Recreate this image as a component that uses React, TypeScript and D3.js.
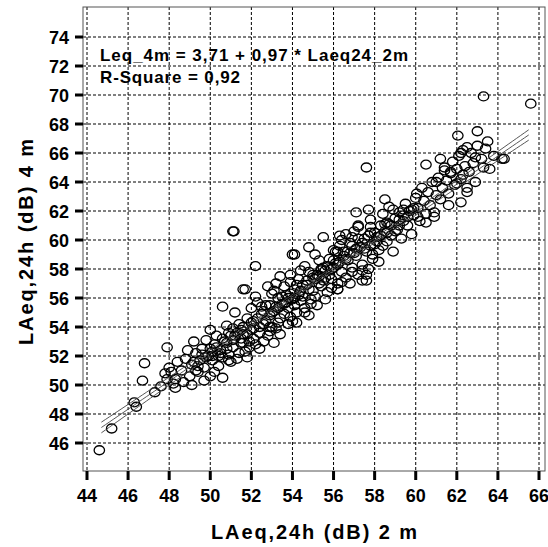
import React from 'react';
import * as d3 from 'd3';

const xTicks = [44, 46, 48, 50, 52, 54, 56, 58, 60, 62, 64, 66];
const yTicks = [46, 48, 50, 52, 54, 56, 58, 60, 62, 64, 66, 68, 70, 72, 74];
const intercept = 3.71;
const slope = 0.97;
const fitRange = [44.7, 65.6];
const equationLabel = 'Leq_4m = 3,71 + 0,97 * Laeq24_2m';
const rSquareLabel = 'R-Square = 0,92';
const xTitle = 'LAeq,24h (dB) 2 m';
const yTitle = 'LAeq,24h (dB) 4 m';

// [LAeq 2 m, LAeq 4 m]
const outlierPoints: [number, number][] = [
  [44.6, 45.5], [45.2, 47.0], [46.4, 48.5], [46.3, 48.8], [47.3, 49.5], [46.7, 50.3],
  [46.8, 51.5], [47.9, 52.6], [47.8, 50.8], [49.1, 50.0], [50.6, 55.4], [51.1, 60.6],
  [51.15, 60.6], [51.6, 56.6], [51.7, 56.6], [52.2, 58.2], [54.0, 59.0], [54.1, 59.0],
  [54.8, 59.5], [55.5, 60.2], [56.3, 60.3], [56.9, 60.2], [57.6, 65.0], [63.3, 69.9],
  [65.6, 69.4], [62.05, 67.2], [63.0, 67.5], [61.2, 65.6], [60.5, 65.2], [53.9, 57.6],
  [53.4, 57.5],
];

const lowCloud: [number, number][] = [
  [47.6, 49.9], [47.9, 50.4], [48.1, 50.9], [48.3, 50.4], [48.0, 51.2], [48.4, 51.6], [48.2, 50.1],
  [48.6, 51.0], [48.8, 51.8], [49.0, 50.6], [49.1, 51.4], [49.3, 52.2], [49.4, 50.9], [48.9, 52.4],
  [49.2, 53.0], [48.7, 50.2], [49.5, 51.7], [48.3, 49.8],
  [49.6, 52.5], [49.7, 51.2], [49.8, 53.1], [49.9, 52.0], [50.0, 50.6], [50.1, 51.7], [50.2, 52.8],
  [50.3, 53.4], [50.4, 51.3], [50.5, 52.4], [49.7, 50.3], [50.0, 53.8], [50.2, 50.9], [50.4, 52.0],
  [50.6, 51.9], [50.7, 53.0], [50.8, 52.5], [50.9, 53.6], [51.0, 51.6], [50.6, 50.5], [50.8, 54.1],
  [51.1, 52.6], [51.2, 53.4], [51.3, 51.8], [51.4, 54.2], [51.5, 52.9], [51.2, 55.0], [51.4, 52.2],
  [51.1, 53.9], [51.6, 53.5], [51.7, 52.3], [51.8, 54.6], [51.9, 53.0], [52.0, 55.3], [51.6, 54.0],
  [51.8, 51.9], [52.0, 53.8], [49.3, 51.0], [50.1, 52.3], [50.9, 52.1], [51.5, 53.2],
];

const midCloud: [number, number][] = [
  [52.1, 54.4], [52.2, 52.8], [52.3, 55.7], [52.4, 53.6], [52.5, 54.9], [52.2, 56.1], [52.4, 52.5],
  [52.1, 53.2], [52.6, 54.2], [52.7, 55.5], [52.8, 53.4], [52.9, 54.8], [53.0, 56.3], [52.6, 53.0],
  [52.8, 56.8], [53.0, 54.0], [53.1, 55.1], [53.2, 53.9], [53.3, 56.0], [53.4, 54.6], [53.5, 55.6],
  [53.2, 57.0], [53.4, 53.5], [53.1, 56.5], [53.6, 54.9], [53.7, 56.2], [53.8, 55.3], [53.9, 57.1],
  [54.0, 54.4], [53.6, 56.8], [53.8, 54.2], [54.0, 55.9], [54.1, 56.6], [54.2, 55.0], [54.3, 57.3],
  [54.4, 55.8], [54.5, 56.9], [54.2, 54.3], [54.4, 57.9], [54.1, 55.5], [54.6, 55.3], [54.7, 56.9],
  [54.8, 57.8], [54.9, 55.9], [55.0, 56.5], [54.6, 58.2], [54.8, 54.8], [55.0, 57.4], [55.1, 56.1],
  [55.2, 57.6], [55.3, 58.6], [55.4, 56.8], [55.5, 57.2], [55.2, 55.5], [55.4, 58.0], [55.1, 59.0],
  [55.6, 57.9], [55.7, 56.4], [55.8, 58.7], [55.9, 57.3], [56.0, 59.3], [55.6, 55.9], [55.8, 57.6],
  [56.0, 58.1], [52.5, 55.4], [53.3, 54.3], [54.3, 56.2], [55.3, 57.0], [53.7, 55.7], [52.9, 54.0],
];

const highCloud: [number, number][] = [
  [56.1, 58.4], [56.2, 57.0], [56.3, 59.6], [56.4, 57.8], [56.5, 58.9], [56.2, 56.6], [56.4, 60.0],
  [56.1, 59.2], [56.6, 57.4], [56.7, 58.6], [56.8, 59.8], [56.9, 58.1], [57.0, 59.1], [56.6, 60.4],
  [56.8, 57.0], [57.0, 60.6], [57.1, 58.9], [57.2, 57.6], [57.3, 59.5], [57.4, 58.3], [57.5, 60.1],
  [57.2, 61.0], [57.4, 57.2], [57.6, 59.2], [57.7, 58.0], [57.8, 60.5], [57.9, 59.0], [58.0, 59.7],
  [57.6, 57.6], [57.8, 61.4], [58.1, 60.2], [58.2, 59.3], [58.3, 61.0], [58.4, 59.6], [58.5, 60.6],
  [58.2, 58.5], [58.4, 61.8], [58.6, 59.9], [58.7, 61.1], [58.8, 60.3], [58.9, 59.2], [59.0, 61.5],
  [58.7, 62.3], [59.1, 60.7], [59.2, 61.9], [59.3, 60.1], [59.4, 61.3], [59.5, 62.5], [59.6, 61.0],
  [59.7, 62.0], [59.8, 60.4], [59.9, 61.7], [60.0, 62.9], [60.1, 62.2], [60.2, 61.3], [60.3, 63.6],
  [60.4, 62.7], [60.5, 61.8], [60.6, 63.3], [60.7, 62.4], [60.8, 64.0], [60.9, 61.9], [61.0, 63.1],
  [61.1, 64.3], [61.2, 62.8], [61.3, 63.6], [61.4, 65.0], [61.5, 64.1], [61.6, 63.2], [61.7, 64.6],
  [61.8, 65.4], [61.9, 63.8], [62.0, 64.9], [62.1, 65.8], [62.2, 64.2], [62.3, 66.2], [62.4, 65.1],
  [62.5, 63.6], [62.6, 64.7], [62.7, 66.0], [62.8, 65.3], [62.9, 64.0], [63.0, 66.5], [63.2, 65.6],
  [63.4, 66.3], [63.6, 64.9], [63.8, 65.8], [64.3, 65.6], [57.1, 61.9], [57.7, 62.1], [58.5, 62.8],
  [58.9, 62.1], [59.4, 62.1], [59.8, 62.1], [57.2, 60.9], [57.8, 60.9], [58.6, 61.2], [59.2, 61.0],
  [60.05, 63.2], [60.9, 61.6], [60.5, 61.2], [60.1, 61.6], [61.6, 62.4], [62.2, 62.6], [62.5, 63.3],
  [62.0, 63.9], [61.4, 64.8], [61.0, 64.0], [62.5, 66.4], [63.5, 66.8], [62.9, 65.7], [62.2, 66.0],
  [64.2, 65.6], [63.3, 65.0], [61.7, 64.7], [62.3, 64.5], [55.5, 58.1], [56.2, 59.2], [57.4, 57.9],
  [57.6, 57.2], [56.2, 56.6],
];

// tightly packed readings near the fit line
const coreCloud: [number, number][] = [
  [49.2, 51.6], [49.4, 51.3], [49.6, 52.1], [49.8, 51.9], [50.0, 52.5], [50.1, 52.0], [50.3, 52.6],
  [50.5, 52.2], [50.6, 53.2], [50.8, 52.9], [51.0, 53.4], [51.1, 53.1], [51.3, 53.6], [51.5, 53.8],
  [51.6, 52.9], [51.8, 53.5], [52.0, 54.3], [52.1, 53.9], [52.3, 54.6], [52.4, 54.0], [52.6, 55.1],
  [52.7, 54.4], [52.9, 55.5], [53.0, 55.0], [53.2, 55.4], [53.3, 55.3], [53.5, 56.1], [53.6, 55.6],
  [53.8, 56.0], [53.9, 56.3], [54.1, 56.0], [54.2, 56.9], [54.4, 56.5], [54.5, 56.1], [54.7, 57.2],
  [54.8, 56.6], [55.0, 57.6], [55.1, 57.3], [55.3, 57.5], [55.4, 57.9], [55.6, 57.4], [55.7, 58.2],
  [55.9, 58.0], [56.0, 58.6], [56.2, 58.3], [56.3, 58.5], [56.5, 59.2], [56.6, 58.7], [56.8, 59.1],
  [56.9, 59.6], [57.1, 59.4], [57.2, 60.1], [57.4, 59.8], [57.5, 59.4], [57.7, 60.3], [57.8, 59.6],
  [58.0, 60.5], [58.1, 59.9], [58.3, 60.3], [58.5, 61.1], [58.6, 60.5], [58.8, 61.0], [59.0, 60.6],
  [59.2, 61.4], [59.4, 61.7], [59.6, 61.6], [59.9, 62.2], [50.9, 51.7], [51.9, 52.6], [52.9, 53.7],
  [53.9, 54.7], [54.9, 55.6], [55.9, 56.7], [56.9, 57.8], [57.9, 58.7], [53.1, 52.9], [54.6, 55.0],
  [56.4, 57.1],
];

const allPoints = [...outlierPoints, ...lowCloud, ...midCloud, ...highCloud, ...coreCloud];

export default function App() {
  const width = 548;
  const height = 547;
  const frame = { left: 83, right: 545, top: 7, bottom: 471 };

  const x = d3.scaleLinear().domain([44, 66]).range([87, 539]);
  const y = d3.scaleLinear().domain([46, 74]).range([443, 37]);

  // confidence band of the mean, using residuals around the printed fit
  const n = allPoints.length;
  const meanX = d3.mean(allPoints, (d) => d[0]) as number;
  const sxx = d3.sum(allPoints, (d) => (d[0] - meanX) ** 2);
  const sse = d3.sum(allPoints, (d) => (d[1] - (intercept + slope * d[0])) ** 2);
  const s = Math.sqrt(sse / (n - 2));
  const halfWidth = (v: number) => 1.97 * s * Math.sqrt(1 / n + (v - meanX) ** 2 / sxx);

  const xs = d3.range(fitRange[0], fitRange[1] + 0.01, 0.2);
  const fitLines = [
    xs.map((v) => [v, intercept + slope * v - halfWidth(v)]),
    xs.map((v) => [v, intercept + slope * v]),
    xs.map((v) => [v, intercept + slope * v + halfWidth(v)]),
  ];
  const path = d3
    .line<number[]>()
    .x((d) => x(d[0]))
    .y((d) => y(d[1]));

  const font = 'Arial, "Liberation Sans", sans-serif';

  return (
    <svg
      width={width}
      height={height}
      style={{ position: 'absolute', left: 0, top: 0, background: '#fff' }}
      fontFamily={font}
    >
      <rect width={width} height={height} fill="#fff" />
      <g className="grid" stroke="#000" strokeWidth={1} strokeDasharray="3,2">
        {xTicks.map((t) => (
          <line key={'gx' + t} x1={x(t)} x2={x(t)} y1={frame.top} y2={frame.bottom} />
        ))}
        {yTicks.map((t) => (
          <line key={'gy' + t} x1={frame.left} x2={frame.right} y1={y(t)} y2={y(t)} />
        ))}
      </g>
      <rect
        x={frame.left}
        y={frame.top}
        width={frame.right - frame.left}
        height={frame.bottom - frame.top}
        fill="none"
        stroke="#555"
        strokeWidth={1}
      />
      <g className="points" fill="none" stroke="#000" strokeWidth={1.3}>
        {allPoints.map((d, i) => (
          <ellipse key={i} cx={x(d[0])} cy={y(d[1])} rx={5.2} ry={4.5} />
        ))}
      </g>
      <g className="fit" fill="none" stroke="#444" strokeWidth={0.9}>
        {fitLines.map((pts, i) => (
          <path key={i} d={path(pts) as string} />
        ))}
      </g>
      <g className="x-axis">
        {xTicks.map((t) => (
          <g key={'tx' + t}>
            <line x1={x(t)} x2={x(t)} y1={frame.bottom} y2={frame.bottom + 9} stroke="#000" strokeWidth={3} />
            <text x={x(t)} y={502} textAnchor="middle" fontSize={18} fontWeight="bold">
              {t}
            </text>
          </g>
        ))}
      </g>
      <g className="y-axis">
        {yTicks.map((t) => (
          <g key={'ty' + t}>
            <line x1={frame.left - 8} x2={frame.left} y1={y(t)} y2={y(t)} stroke="#000" strokeWidth={3} />
            <text x={69} y={y(t) + 6.5} textAnchor="end" fontSize={18} fontWeight="bold">
              {t}
            </text>
          </g>
        ))}
      </g>
      <text x={100} y={61} fontSize={17} fontWeight="bold" textLength={308} lengthAdjust="spacing">
        {equationLabel}
      </text>
      <text x={100} y={83} fontSize={17} fontWeight="bold" textLength={140} lengthAdjust="spacing">
        {rSquareLabel}
      </text>
      <text
        x={314}
        y={539}
        textAnchor="middle"
        fontSize={20}
        fontWeight="bold"
        textLength={206}
        lengthAdjust="spacing"
      >
        {xTitle}
      </text>
      <text
        transform={`translate(33,${(frame.top + frame.bottom) / 2 + 3}) rotate(-90)`}
        textAnchor="middle"
        fontSize={20}
        fontWeight="bold"
        textLength={206}
        lengthAdjust="spacing"
      >
        {yTitle}
      </text>
    </svg>
  );
}
